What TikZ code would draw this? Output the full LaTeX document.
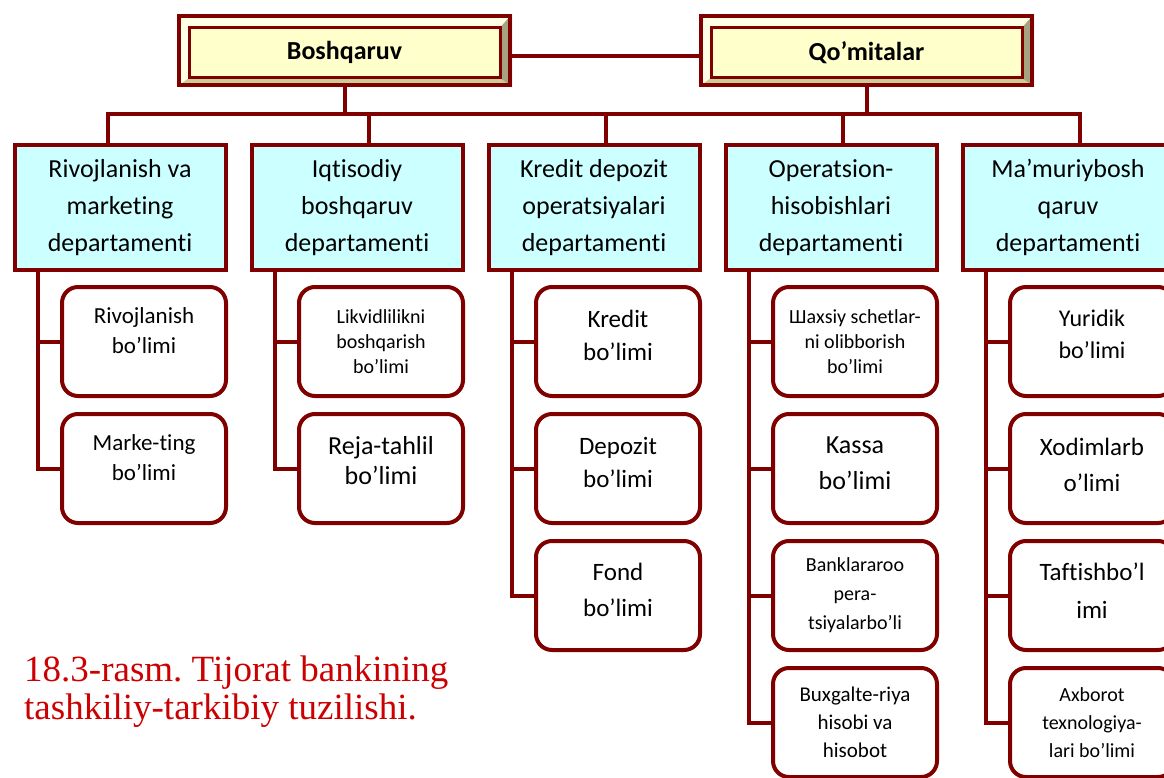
\documentclass[tikz,border=0pt]{standalone}
\usepackage{fontspec}
\setmainfont{Carlito}[Ligatures={TeX,NoCommon}]
\newfontfamily\capfont{Liberation Serif}
\usetikzlibrary{positioning, calc}
\definecolor{brd}{RGB}{128,0,0}
\definecolor{deptfill}{RGB}{204,255,255}
\definecolor{topfill}{RGB}{255,255,204}
\definecolor{bevlight}{RGB}{255,255,229}
\definecolor{bevlow}{RGB}{204,204,153}
\definecolor{bevside}{RGB}{166,163,128}
\definecolor{capred}{RGB}{204,0,0}
\pgfdeclarelayer{background}
\pgfsetlayers{background,main}
\frenchspacing

\begin{document}
\begin{tikzpicture}[
    x=1pt, y=-1pt,
    topframe/.style={rectangle, draw=brd, line width=4pt, minimum width=331pt, minimum height=69pt},
    topinner/.style={rectangle, draw=brd, fill=topfill, line width=3pt, minimum width=311pt,
                     minimum height=50pt, font=\fontsize{26}{30}\selectfont\bfseries},
    deptbox/.style={rectangle, draw=brd, fill=deptfill, line width=4pt, minimum width=211pt,
                    minimum height=125pt, align=center, font=\fontsize{26}{37}\selectfont},
    unitbox/.style={rectangle, rounded corners=16pt, draw=brd, fill=white, line width=4pt,
                    minimum width=164pt, minimum height=109pt, align=center, font=\fontsize{25}{33}\selectfont},
    smallunit/.style={unitbox, font=\fontsize{20}{26}\selectfont},
    lift/.style={execute at end node={\rule[-#1]{0pt}{#1}}},
    link/.style={draw=brd, line width=4pt},
    caption/.style={font=\capfont\fontsize{37}{38}\selectfont, text=capred, align=left, inner sep=0pt},
]
\useasboundingbox (0,0) rectangle (1164,778);
\clip (0,0) rectangle (1164,778);

% Top level
\node[topframe] (bosh) at (344.5,50.5) {};
\node[topinner] (boshin) at ([yshift=-2pt]bosh.center) {Boshqaruv};
\node[topframe, right=187pt of bosh] (qom) {};
\node[topinner] (qomin) at ([yshift=-2pt]qom.center) {Qo’mitalar};

\begin{pgfonlayer}{background}
\foreach \o/\i in {bosh/boshin, qom/qomin} {
    \fill[bevlight] (\o.north west) rectangle (\o.south east);
    \fill[bevlow] (\o.south west) -- (\o.south east) -- (\i.south east) -- (\i.south west) -- cycle;
    \fill[bevside] (\o.south east) -- (\o.north east) -- (\i.north east) -- (\i.south east) -- cycle;
}
\end{pgfonlayer}

% Departments
\node[deptbox] (d1) at (120,207.5) {Rivojlanish va\\marketing\\departamenti};
\node[deptbox, right=22pt of d1] (d2) {Iqtisodiy\\boshqaruv\\departamenti};
\node[deptbox, right=22pt of d2] (d3) {Kredit depozit\\operatsiyalari\\departamenti};
\node[deptbox, right=22pt of d3] (d4) {Operatsion-\\hisobishlari\\departamenti};
\node[deptbox, right=22pt of d4] (d5) {Ma’muriybosh\\qaruv\\departamenti};

% Units
\node[unitbox, below=13pt of d1, xshift=24pt, font=\fontsize{23}{30}\selectfont, lift=22pt] (u11) {Rivojlanish\\bo’limi};
\node[unitbox, below=14pt of u11, font=\fontsize{23}{30}\selectfont, lift=22pt] (u12) {Marke-ting\\bo’limi};

\node[smallunit, below=13pt of d2, xshift=24pt, font=\fontsize{20}{25}\selectfont] (u21) {Likvidlilikni\\boshqarish\\bo’limi};
\node[unitbox, below=14pt of u21, font=\fontsize{26}{30}\selectfont, lift=17pt] (u22) {Reja-tahlil\\bo’limi};

\node[unitbox, below=13pt of d3, xshift=24pt, lift=13pt] (u31) {Kredit\\bo’limi};
\node[unitbox, below=14pt of u31, lift=13pt] (u32) {Depozit\\bo’limi};
\node[unitbox, below=14pt of u32, font=\fontsize{25}{36}\selectfont, lift=12pt] (u33) {Fond\\bo’limi};

\node[smallunit, below=13pt of d4, xshift=24pt, font=\fontsize{20}{25}\selectfont] (u41) {Шахsiy schetlar-\\ni olibborish\\bo’limi};
\node[unitbox, below=14pt of u41, font=\fontsize{26}{36}\selectfont, lift=11pt] (u42) {Kassa\\bo’limi};
\node[smallunit, below=14pt of u42, font=\fontsize{20}{29}\selectfont] (u43) {Banklararoo\\pera-\\tsiyalarbo’li};
\node[smallunit, below=14pt of u43, font=\fontsize{21}{28}\selectfont] (u44) {Buxgalte-riya\\hisobi va\\hisobot};

\node[unitbox, below=13pt of d5, xshift=24pt, font=\fontsize{24}{32}\selectfont, lift=14pt] (u51) {Yuridik\\bo’limi};
\node[unitbox, below=14pt of u51, font=\fontsize{25}{36}\selectfont, lift=8pt] (u52) {Xodimlarb\\o’limi};
\node[unitbox, below=14pt of u52, font=\fontsize{25}{38}\selectfont, lift=10pt] (u53) {Taftishbo’l\\imi};
\node[smallunit, below=14pt of u53, font=\fontsize{20}{28}\selectfont] (u54) {Axborot\\texnologiya-\\lari bo’limi};

% Connectors
\coordinate (bus) at (0,114);
\draw[link] ([yshift=-6pt]bosh.east) -- ([yshift=-6pt]bosh.east -| qom.west);
\draw[link] (bosh.south) -- (bosh.south |- bus);
\draw[link] (qom.south) -- (qom.south |- bus);
\draw[link] ([xshift=-12pt]d1.north) |- ([xshift=12pt]d5.north |- bus) -- ([xshift=12pt]d5.north);
\foreach \d in {d2, d3, d4}
    \draw[link] ([xshift=12pt]\d.north) -- ([xshift=12pt]\d.north |- bus);

\foreach \d/\last in {d1/u12, d2/u22, d3/u33, d4/u44, d5/u54} {
    \coordinate (t\d) at ([xshift=-82pt]\d.south);
    \draw[link] (t\d) |- (\last.west);
}
\foreach \u/\d in {u11/d1, u21/d2, u31/d3, u32/d3, u41/d4, u42/d4, u43/d4, u51/d5, u52/d5, u53/d5}
    \draw[link] (\u.west) -- (\u.west -| t\d);

% Caption
\node[caption, anchor=base west] (cap) at (24,719) {18.3-rasm. Tijorat bankining\\tashkiliy-tarkibiy tuzilishi.};

\end{tikzpicture}
\end{document}
